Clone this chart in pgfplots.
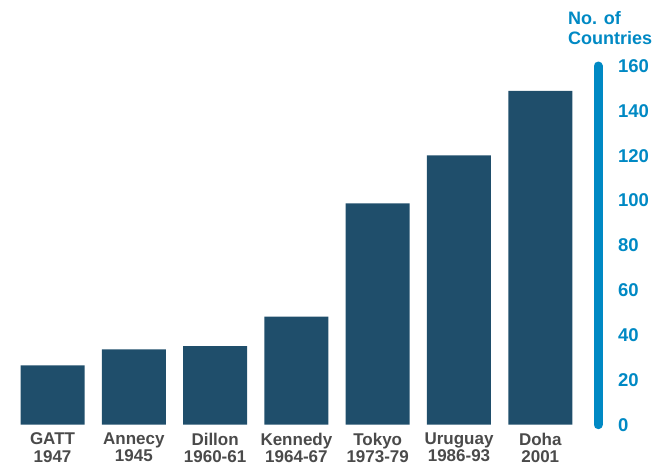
\documentclass[border=0pt]{standalone}
\usepackage{pgfplots}
\pgfplotsset{compat=1.18}
\usepackage{fontspec}
\setmainfont{Liberation Sans}
\definecolor{barblue}{HTML}{1F4E6B}
\definecolor{axblue}{HTML}{0089C4}
\definecolor{labgray}{HTML}{4A4A4A}
\begin{document}
\begin{tikzpicture}[x=1pt,y=1pt]
\useasboundingbox (0,0) rectangle (653,467);
\begin{axis}[
  at={(0pt,42.3pt)}, anchor=south west,
  scale only axis, width=598pt, height=358.7pt,
  xmin=-0.646, xmax=6.71, ymin=0, ymax=160,
  axis x line=bottom, axis y line=right,
  x axis line style={draw=none},
  y axis line style={-, draw=axblue, line width=9pt, line cap=round},
  ybar, bar width=64pt,
  ytick={0,20,...,160}, major tick length=0pt,
  /pgf/number format/assume math mode=true,
  yticklabel style={anchor=west, xshift=16.5pt, text=axblue, font=\fontsize{18.5}{20}\selectfont\bfseries},
  xtick={0,...,6},
  xticklabels={{GATT\\1947},{Annecy\\1945},{Dillon\\1960-61},{Kennedy\\1964-67},{Tokyo\\1973-79},{Uruguay\\1986-93},{Doha\\2001}},
  xticklabel style={align=center, text=labgray, font=\fontsize{17}{17.5}\selectfont\bfseries, yshift=-4.5pt},
  clip=false,
]
\addplot[fill=barblue, draw=none] coordinates {(0,26.5) (1,33.6) (2,35.1) (3,48.2) (4,98.7) (5,120.1) (6,148.9)};
\end{axis}
\node[anchor=north west, align=left, text=axblue, font=\fontsize{18}{20}\selectfont\bfseries, inner sep=0pt] at (568,456) {No. of\\Countries};
\end{tikzpicture}
\end{document}
